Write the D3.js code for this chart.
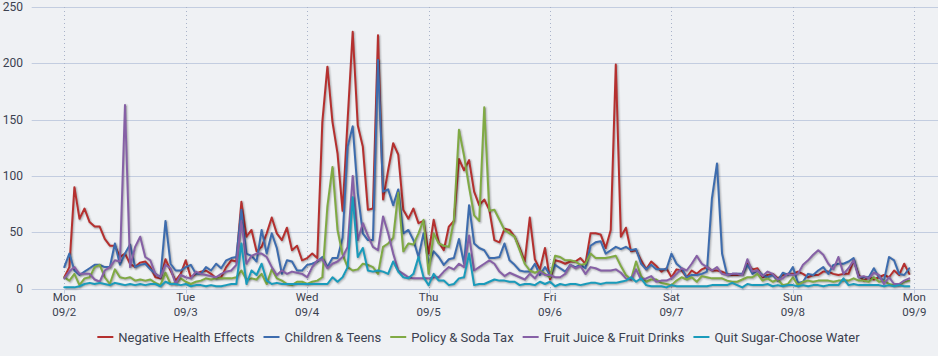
<!DOCTYPE html>
<html><head><meta charset="utf-8">
<script src="https://cdn.jsdelivr.net/npm/d3@7"></script>
<style>
html,body{margin:0;padding:0;background:#eff1f4;}
svg{display:block;}
text{font-family:Roboto,"Open Sans",sans-serif;}
</style></head><body>
<svg id="chart" width="938" height="356"></svg>
<script>
// ---- DATA (hourly counts, Mon 09/2 00:00 .. Sun 09/8 23:00) ----
const seriesNames = ["Negative Health Effects","Children & Teens","Policy & Soda Tax","Fruit Juice & Fruit Drinks","Quit Sugar-Choose Water"];
const seriesColors = ["#b5302f","#3d6cae","#80aa44","#8660a6","#1a9bbb"];

const negativeHealth = [
 10,19,90,62,71,59,55,55,44,38,38,28,31,22,19,23,24,19,10,9,26,16,7,13,
 25,10,13,15,16,13,9,10,19,25,24,77,46,52,33,37,49,63,49,43,54,34,38,25,
 27,31,27,148,197,148,120,69,150,228,145,126,70,71,225,79,105,129,119,70,62,71,58,60,
 31,61,41,34,55,60,115,105,114,86,74,79,70,43,41,53,52,46,36,24,63,26,17,36,
 8,25,24,22,24,24,27,22,49,49,48,36,52,199,46,54,33,34,25,17,24,20,15,18,
 10,17,16,10,16,13,17,19,16,16,15,13,12,12,13,22,17,18,10,12,13,9,12,13,
 13,15,13,10,12,12,15,15,13,12,13,13,25,12,7,10,8,10,12,10,16,12,22,13
];
const childrenTeens = [
 19,31,16,12,15,18,21,21,19,19,40,21,31,39,19,21,22,17,13,10,60,22,16,16,
 19,21,13,13,19,16,22,18,25,27,28,70,31,29,24,52,31,49,36,13,25,24,16,16,
 21,22,24,28,19,27,27,45,126,144,85,49,43,43,203,86,88,74,88,49,52,43,28,49,
 22,33,28,21,26,27,44,22,74,40,36,34,27,27,28,40,25,21,16,15,15,22,12,19,
 12,21,18,15,21,19,21,18,38,41,42,31,34,37,35,37,34,35,22,17,21,17,17,17,
 31,22,18,10,12,12,13,15,80,111,31,12,13,13,13,21,13,16,12,10,12,7,14,12,
 19,5,6,13,12,16,19,13,21,22,22,24,27,10,10,10,18,10,7,28,25,13,12,18
];
const policySodaTax = [
 10,7,13,3,9,10,19,21,10,4,17,10,9,10,7,8,7,8,5,3,14,4,5,9,
 6,4,6,7,9,8,9,9,9,9,10,16,8,9,8,13,4,17,9,7,4,3,6,6,
 4,6,7,10,73,108,52,30,19,16,17,22,21,19,13,37,40,45,85,33,40,39,49,61,
 13,49,40,38,37,61,141,118,90,65,60,161,69,70,61,52,49,46,34,22,16,14,16,13,
 10,29,28,25,25,24,21,22,31,27,27,27,28,29,20,12,8,24,11,6,8,8,5,4,
 3,7,10,8,10,6,11,10,9,9,9,7,6,6,8,10,10,13,7,9,6,8,3,4,
 10,3,6,7,6,7,7,7,6,7,7,7,9,7,7,6,10,6,7,4,3,3,6,7
];
const fruitJuice = [
 9,15,19,13,13,13,8,6,16,19,25,24,163,19,37,46,28,25,13,10,21,18,4,12,
 10,9,15,13,12,11,10,13,15,16,21,60,22,29,31,31,28,19,12,16,13,15,14,13,
 10,19,25,26,18,22,24,28,37,100,43,58,47,37,34,64,49,31,16,13,10,9,9,9,
 9,10,10,15,19,17,22,19,47,16,19,22,25,22,15,11,14,12,10,8,13,9,15,12,
 12,10,10,13,21,18,20,13,19,18,16,16,16,17,14,9,8,17,8,9,11,6,7,7,
 9,13,18,16,22,29,22,19,16,19,13,12,13,13,12,26,15,16,11,15,13,8,9,13,
 12,13,21,25,30,34,30,22,17,28,13,18,25,10,11,9,14,12,4,10,4,4,7,9
];
const quitSugarWater = [
 1,1,1,2,4,5,4,5,4,3,5,4,3,4,3,4,3,4,4,2,6,4,4,3,
 4,2,3,3,2,3,2,2,3,4,4,40,4,16,12,22,7,4,5,4,4,4,4,4,
 4,4,4,4,4,10,6,10,19,81,28,36,16,15,16,15,13,24,15,10,9,13,28,10,
 3,13,7,7,3,4,9,10,31,3,4,4,6,8,7,7,6,6,3,4,4,3,6,4,
 6,2,4,3,4,4,3,4,5,5,4,5,5,5,6,7,10,6,9,3,2,2,2,1,
 3,2,2,2,2,2,2,2,3,3,3,3,5,3,1,4,3,3,3,4,2,3,2,3,
 3,2,3,2,3,3,2,3,3,3,9,3,4,3,3,3,3,3,2,3,2,3,2,2
];
const yTickValues = [0,50,100,150,200,250];
const dayLabels = ["Mon","Tue","Wed","Thu","Fri","Sat","Sun","Mon"];
const dateLabels = ["09/2","09/3","09/4","09/5","09/6","09/7","09/8","09/9"];

// ---- CHART ----
const svg = d3.select("#chart");
const W = 938, H = 356;
const plotLeft = 31.7, plotRight = 938, plotTop = 7, plotBottom = 288.5;
const start = new Date(2013, 8, 2, 0, 0, 0);
const hour = 3600 * 1000;
const x = d3.scaleTime()
  .domain([new Date(+start - 6.44 * hour), new Date(+start + 172.68 * hour)])
  .range([plotLeft, plotRight]);
const y = d3.scaleLinear().domain([0, 250]).range([plotBottom, plotTop]);

svg.append("rect").attr("width", W).attr("height", H).attr("fill", "#eff1f4");

// horizontal gridlines
svg.append("g").selectAll("line").data(yTickValues).join("line")
  .attr("x1", plotLeft).attr("x2", plotRight)
  .attr("y1", d => Math.round(y(d)) + 0.5).attr("y2", d => Math.round(y(d)) + 0.5)
  .attr("stroke", "#c3cde0").attr("stroke-width", 1);

// y labels
svg.append("g").selectAll("text").data(yTickValues).join("text")
  .attr("x", 23).attr("y", d => y(d) + 4)
  .attr("text-anchor", "end").attr("font-size", 12).attr("fill", "#3b4150")
  .text(d => d);

// day ticks
const dayDates = dayLabels.map((_, i) => new Date(+start + i * 24 * hour));
svg.append("g").selectAll("line").data(dayDates).join("line")
  .attr("x1", d => Math.round(x(d)) + 0.5).attr("x2", d => Math.round(x(d)) + 0.5)
  .attr("y1", plotTop).attr("y2", plotBottom)
  .attr("stroke", "#a9b3c9").attr("stroke-width", 1).attr("stroke-dasharray", "1,3");
svg.append("g").selectAll("line").data(dayDates).join("line")
  .attr("x1", d => Math.round(x(d)) + 0.5).attr("x2", d => Math.round(x(d)) + 0.5)
  .attr("y1", plotBottom).attr("y2", plotBottom + 5)
  .attr("stroke", "#c3cde0").attr("stroke-width", 1);
const xl = svg.append("g").selectAll("text").data(dayDates).join("text")
  .attr("text-anchor", "middle").attr("font-size", 11.5).attr("fill", "#3b4150");
xl.append("tspan").attr("x", d => x(d)).attr("y", 301).text((d, i) => dayLabels[i]);
xl.append("tspan").attr("x", d => x(d)).attr("y", 315.5).text((d, i) => dateLabels[i]);

// series
const allSeries = [negativeHealth, childrenTeens, policySodaTax, fruitJuice, quitSugarWater];
const line = d3.line()
  .x((d, i) => x(new Date(+start + i * hour)))
  .y(d => y(d));
const gS = svg.append("g");
allSeries.forEach((data, si) => {
  const g = gS.append("g");
  [[5, 0.05], [3, 0.1], [1, 0.15]].forEach(([w, o]) => {
    g.append("path").attr("d", line(data)).attr("fill", "none")
      .attr("stroke", "#000").attr("stroke-opacity", o).attr("stroke-width", w)
      .attr("stroke-linejoin", "round").attr("transform", "translate(1,1)");
  });
  g.append("path").attr("d", line(data)).attr("fill", "none")
    .attr("stroke", seriesColors[si]).attr("stroke-width", 2)
    .attr("stroke-linejoin", "round").attr("stroke-linecap", "round");
});

// legend
const legend = svg.append("g");
const items = legend.selectAll("g").data(seriesNames).join("g");
items.append("line").attr("x1", 0).attr("x2", 16).attr("y1", 0).attr("y2", 0)
  .attr("stroke", (d, i) => seriesColors[i]).attr("stroke-width", 2);
items.append("text").attr("x", 21).attr("y", 4.5).attr("font-size", 13)
  .attr("fill", "#3b4150").text(d => d);
let cx = 0;
const offsets = [];
items.each(function () {
  offsets.push(cx);
  const w = d3.select(this).select("text").node().getComputedTextLength();
  cx += 21 + w + 9;
});
const total = cx - 9;
const lx = 478.5 - total / 2;
items.attr("transform", (d, i) => `translate(${lx + offsets[i]},337)`);
</script>
</body></html>
